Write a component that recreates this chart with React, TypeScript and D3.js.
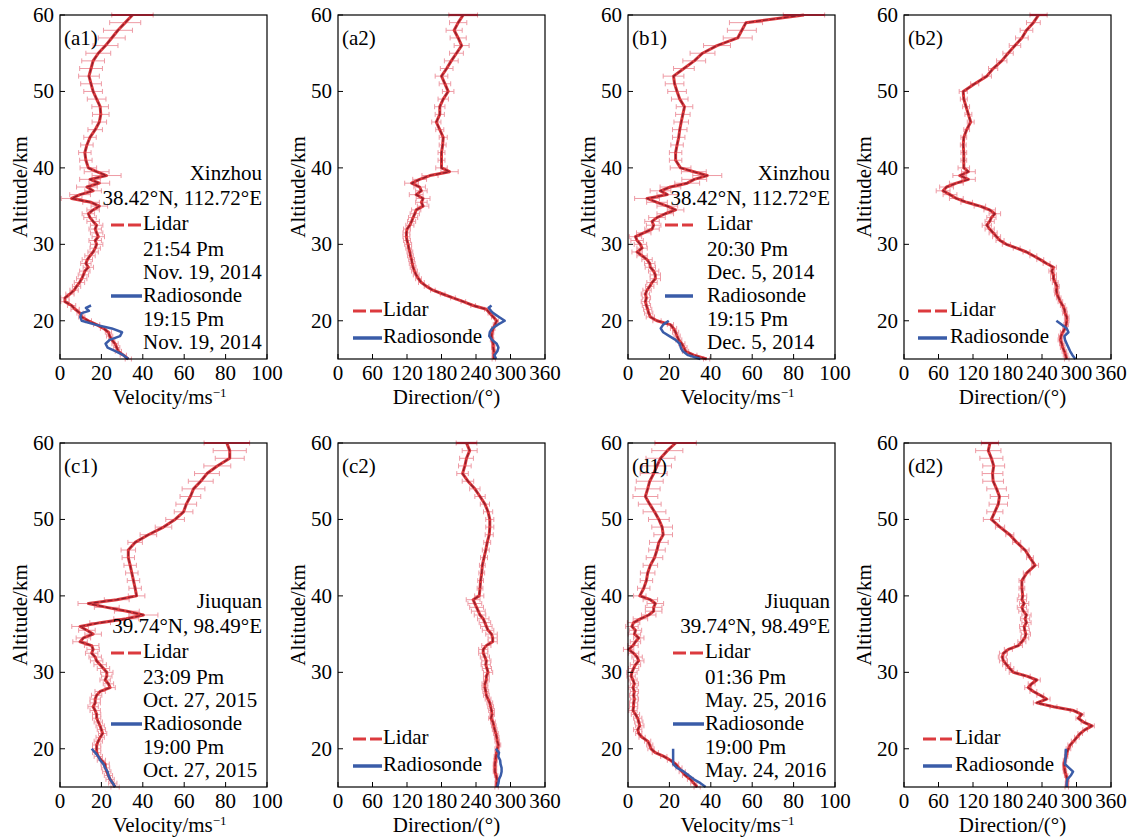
import React from 'react';
import * as d3 from 'd3';

// ---------- DATA ----------
const ALT_LIDAR = [
  15, 15.5, 16, 16.5, 17, 17.5, 18, 18.5, 19, 19.5,
  20, 20.5, 21, 21.5, 22, 22.5, 23, 23.5, 24, 24.5,
  25, 25.5, 26, 26.5, 27, 27.5, 28, 28.5, 29, 29.5,
  30, 30.5, 31, 31.5, 32, 32.5, 33, 33.5, 34, 34.5,
  35, 35.5, 36, 36.5, 37, 37.5, 38, 38.5, 39, 39.5,
  40,
  41, 42, 43, 44, 45, 46, 47, 48, 49, 50,
  51, 52, 53, 54, 55, 56, 57, 58, 59, 60,
];

const A1_LIDAR = [
  33, 30.6, 28.2, 27.4, 26.6, 25, 24, 23.4, 21, 17.7,
  13.7, 10.5, 9.7, 7.3, 5.6, 2.4, 2.4, 4.8, 6.8, 8,
  9.4, 10.5, 11.3, 12, 13.7, 12.5, 13.2, 14.5, 16, 17,
  17.7, 17, 18.5, 17.7, 17, 17.7, 16, 14.5, 13.7, 16,
  19, 15, 5.6, 9.7, 16, 13, 19, 14.5, 22.5, 17.7,
  13.7,
  12.5, 12, 13, 14.5, 17, 19, 19.7, 19.4, 17.7, 16,
  15, 14, 15, 16, 18.5, 22, 25, 28, 31.5, 35,
];
const A1_ERR = [
  1.5, 1.5, 1.5, 1.5, 1.5, 1.5, 1.5, 1.5, 1.5, 1.5,
  1.5, 1.5, 1.5, 2, 2, 2, 2, 2, 2, 2,
  2.5, 2.5, 2.5, 2.5, 2.5, 2.5, 2.5, 2.5, 2.5, 2.5,
  3, 3, 3, 3, 3, 3, 3, 3, 3, 3,
  4, 4, 5, 5, 4, 5, 5, 5, 7, 6,
  4,
  3, 3, 3, 3, 3.5, 3.5, 4, 4, 4.5, 4.5,
  5, 5, 5.5, 5.5, 6, 6, 6.5, 7, 7.5, 10,
];
const A1_SONDE_ALT = [15, 15.5, 16, 16.5, 17, 17.5, 18, 18.5, 19, 19.5, 20, 20.5, 21, 21.3, 21.7, 22];
const A1_SONDE = [33, 30.6, 27, 23, 22, 24, 29, 30, 25, 17, 10.5, 9.8, 10.5, 14, 12.5, 15];

const A2_LIDAR = [
  271, 271, 271, 270, 270, 268, 267, 268, 270, 273,
  276, 270, 264, 258, 235, 218, 200, 182, 165, 154,
  145, 140, 136, 133, 130.6, 129, 128, 126, 125, 123,
  122, 120, 119, 119, 120, 125, 128, 130.6, 133.5, 136,
  148, 145, 148, 136, 145, 142, 128, 142, 160, 194,
  180,
  180, 180, 182, 183, 177, 171, 177, 177, 183, 191.6,
  186, 180, 189, 197, 206, 215, 209, 202, 209, 217.7,
];
const A2_ERR = [
  3, 3, 3, 3, 3, 3, 3, 3, 3, 3,
  3, 3, 3, 3, 4, 4, 4, 4, 4, 4,
  5, 5, 5, 5, 5, 5, 5, 5, 5, 5,
  6, 6, 6, 6, 6, 7, 7, 8, 8, 8,
  10, 10, 12, 12, 10, 10, 12, 12, 14, 15,
  10,
  6, 6, 6, 7, 7, 8, 8, 9, 9, 10,
  10, 11, 11, 12, 12, 13, 14, 14, 15, 25,
];
const A2_SONDE_ALT = [15, 15.5, 16, 16.5, 17, 17.5, 18, 18.5, 19, 19.5, 20, 20.5, 21, 21.3, 21.7, 22];
const A2_SONDE = [275, 272, 277, 279, 276, 268, 263, 264, 268, 278, 290, 280, 270, 266, 262, 267];

const B1_LIDAR = [
  38, 31.8, 27.8, 27, 26, 24.5, 23.7, 23, 22, 20.5,
  14, 10.8, 10, 9.5, 8.9, 8.4, 8.9, 8.4, 9.2, 10.5,
  11.6, 13.2, 13.2, 12.4, 10.8, 10.5, 9.2, 6.8, 4.4, 6.8,
  6, 4.4, 3.6, 7.6, 11.6, 12.4, 11.6, 14, 18, 23,
  19, 14, 9.2, 19, 15.7, 20.5, 28.6, 32, 38.3, 31.8,
  25.4,
  23, 23, 23.7, 24.5, 25, 25.7, 26.5, 27.3, 25, 23.7,
  22.5, 22, 27, 32, 36, 43, 53, 55, 57, 85,
];
const B1_ERR = [
  1.5, 1.5, 1.5, 1.5, 1.5, 1.5, 1.5, 1.5, 1.5, 1.5,
  2, 2, 2, 2, 2, 2, 2, 2, 2, 2,
  2.5, 2.5, 2.5, 2.5, 2.5, 2.5, 2.5, 2.5, 2.5, 2.5,
  3, 3, 3, 3.5, 3.5, 3.5, 3.5, 4, 4, 4,
  5, 5, 6, 5, 5, 5, 6, 6, 7, 6,
  5,
  3, 3, 3, 3, 3.5, 3.5, 3.5, 4, 4, 4.5,
  4.5, 5, 5, 5.5, 6, 6.5, 7, 7, 8, 10,
];
const B1_SONDE_ALT = [15, 15.5, 16, 16.5, 17, 17.5, 18, 18.5, 19, 19.5, 20];
const B1_SONDE = [35, 29, 26.5, 25.5, 25, 23, 20, 17, 15.8, 17, 19.7];

const B2_LIDAR = [
  283, 281, 279, 276, 274.5, 272, 273, 276, 280, 282,
  283, 283, 280, 279, 276, 272, 269, 266, 265, 266,
  263, 260, 260, 257, 260, 248, 237, 225, 213, 196,
  178, 167, 161, 155, 149, 144, 149, 152, 158, 149,
  132, 109, 91, 80, 68, 74, 91, 112, 97, 112,
  104,
  104, 104, 103, 104, 109, 116, 112, 108, 104, 103,
  123, 144, 155, 170, 181, 193, 205, 213, 225, 234,
];
const B2_ERR = [
  4, 4, 4, 4, 4, 4, 4, 4, 4, 4,
  4, 4, 4, 4, 4, 4, 4, 4, 4, 4,
  5, 5, 5, 5, 5, 6, 6, 6, 6, 6,
  7, 7, 7, 7, 8, 8, 8, 8, 10, 10,
  10, 10, 12, 12, 12, 12, 12, 12, 12, 12,
  10,
  5, 5, 5, 5, 5, 6, 6, 6, 6, 7,
  7, 8, 8, 9, 9, 10, 11, 11, 12, 15,
];
const B2_SONDE_ALT = [15, 15.5, 16, 16.5, 17, 17.5, 18, 18.5, 19, 19.5, 20];
const B2_SONDE = [298, 293, 289, 286, 283, 280, 279, 286, 283, 274, 265];

const C1_LIDAR = [
  26.6, 25.5, 24.2, 23.4, 22.6, 22, 21.8, 20, 18.5, 17.7,
  17.7, 17.7, 18.5, 19.4, 20.6, 20, 19.4, 18.5, 17.7, 17.7,
  17, 16, 17, 17, 17.7, 19.4, 24.2, 23.4, 21.8, 22.6,
  22.6, 21, 19.4, 17.7, 17, 15.3, 16, 15.3, 9.7, 11.3,
  16, 13, 9.7, 19.4, 32, 40.3, 32.3, 22.6, 13.7, 27.4,
  37,
  36.3, 35.5, 34.7, 33.9, 33, 33, 36.3, 42.7, 50, 55.6,
  59.7, 61, 63, 64.5, 68, 71, 76, 82, 82, 80.6,
];
const C1_ERR = [
  2, 2, 2, 2, 2, 2, 2, 2, 2, 2,
  2, 2, 2, 2, 2, 2, 2, 2, 2, 2,
  2.5, 2.5, 2.5, 2.5, 2.5, 2.5, 2.5, 2.5, 2.5, 2.5,
  3, 3, 3, 3, 3, 3, 3, 3.5, 3.5, 3.5,
  4, 4, 4, 5, 6, 7, 6, 6, 5, 6,
  4,
  3, 3, 3, 3, 3, 3.5, 3.5, 4, 4, 4.5,
  4.5, 5, 5, 5.5, 6, 6, 6.5, 7, 8, 11,
];
const C1_SONDE_ALT = [15, 15.5, 16, 16.5, 17, 17.5, 18, 18.5, 19, 19.5, 20];
const C1_SONDE = [26.6, 25.5, 24.2, 23.4, 23, 21.8, 21, 19.4, 18.5, 17, 15.3];

const C2_LIDAR = [
  275.8, 276, 276.5, 275, 273, 273, 273, 274, 274.6, 276,
  277, 279, 277, 276, 274.6, 272.5, 271, 269.5, 266, 268,
  267, 265.5, 264, 261, 258, 257, 255.5, 255.5, 258, 258,
  261, 259, 257, 258, 255.5, 252.6, 252.6, 258, 269, 269,
  267, 261, 258, 255.5, 252.6, 247, 244, 241, 238, 235,
  245.6,
  247, 248, 250, 251, 254, 257, 259.5, 263, 264, 264,
  261, 255.5, 247, 238, 226, 216.6, 220.6, 223.5, 229, 223.5,
];
const C2_ERR = [
  3, 3, 3, 3, 3, 3, 3, 3, 3, 3,
  4, 4, 4, 4, 4, 4, 4, 4, 4, 4,
  5, 5, 5, 5, 5, 5, 5, 5, 5, 5,
  8, 8, 8, 8, 8, 8, 8, 8, 8, 8,
  10, 10, 10, 10, 10, 10, 12, 12, 12, 12,
  8,
  5, 5, 5, 5, 6, 6, 6, 7, 7, 7,
  8, 8, 9, 9, 10, 10, 11, 12, 13, 18,
];
const C2_SONDE_ALT = [15, 15.5, 16, 16.5, 17, 17.5, 18, 18.5, 19, 19.5, 20];
const C2_SONDE = [277, 279, 280, 283, 284.5, 284.5, 282.7, 282, 278.7, 280, 274.6];

const D1_LIDAR = [
  33.4, 31.8, 30.2, 27.8, 26.2, 24.6, 23, 20.5, 17.3, 13.2,
  11.1, 10.5, 9.5, 6.8, 5.2, 4.7, 5.7, 5.2, 4.7, 3.6,
  2.4, 2.7, 2.7, 3.1, 2.7, 3.1, 2.4, 3.1, 2.4, 1.5,
  1.9, 2.7, 3.6, 5.2, 4.4, 2.7, 0.3, 2.4, 3.6, 5.2,
  3.1, 3.6, 1.9, 2.7, 6, 10, 12.4, 12.4, 13.2, 10.8,
  5.7,
  7.6, 8.9, 9.5, 10.8, 12.8, 14, 14.9, 17, 16.5, 14.9,
  12.8, 10.5, 8.4, 9.5, 10.5, 12.4, 14, 15.7, 19, 23,
];
const D1_ERR = [
  1.5, 1.5, 1.5, 1.5, 1.5, 1.5, 1.5, 1.5, 1.5, 1.5,
  1.5, 1.5, 1.5, 1.5, 1.5, 2, 2, 2, 2, 2,
  2, 2, 2, 2, 2, 2, 2, 2, 2, 2,
  2.5, 2.5, 2.5, 2.5, 2.5, 2.5, 2.5, 2.5, 2.5, 2.5,
  3, 3, 3, 3, 3.5, 3.5, 4, 4, 4, 3.5,
  3,
  3, 3, 3.5, 3.5, 4, 4, 4.5, 4.5, 5, 5,
  5.5, 5.5, 6, 6, 6.5, 6.5, 7, 7, 7.5, 10,
];
const D1_SONDE_ALT = [15, 15.5, 16, 16.5, 17, 17.5, 18, 19, 20];
const D1_SONDE = [37.5, 35, 31.8, 29.4, 27, 23.7, 21.8, 21.8, 21.8];

const D2_LIDAR = [
  283, 283.5, 284, 282, 280, 279, 278.6, 280, 282, 283,
  286, 289, 295, 300.7, 306.5, 315, 327, 312, 303, 309,
  295, 260, 231, 248, 237, 225, 216, 222, 231, 213.5,
  190, 184, 178.5, 173, 171, 173, 181.5, 199, 205, 210,
  212, 210, 209, 213, 210.5, 213, 207.6, 205, 209, 205,
  206.5,
  205, 205, 213.5, 228, 219, 210.5, 196, 184, 167, 152,
  158, 164, 166, 161, 155, 154, 156, 152, 146.6, 149.5,
];
const D2_ERR = [
  3, 3, 3, 3, 3, 3, 3, 3, 3, 3,
  4, 4, 4, 4, 4, 4, 4, 4, 4, 4,
  6, 6, 6, 6, 6, 6, 6, 6, 6, 6,
  7, 7, 7, 7, 7, 7, 7, 7, 7, 7,
  8, 8, 8, 8, 8, 8, 8, 8, 8, 8,
  7,
  5, 5, 6, 6, 6, 7, 7, 7, 8, 14,
  14, 16, 16, 17, 18, 18, 19, 20, 22, 15,
];
const D2_SONDE_ALT = [15, 15.5, 16, 16.5, 17, 17.5, 18, 19, 20];
const D2_SONDE = [283, 283, 284, 290, 294, 287, 280, 281, 281.5];

const VEL_TICKS = [0, 20, 40, 60, 80, 100];
const DIR_TICKS = [0, 60, 120, 180, 240, 300, 360];
const ALT_TICKS = [20, 30, 40, 50, 60];

const PANEL_LABELS = ['(a1)', '(a2)', '(b1)', '(b2)', '(c1)', '(c2)', '(d1)', '(d2)'];
const SITE_NAMES = ['Xinzhou', 'Xinzhou', 'Jiuquan', 'Jiuquan'];
const SITE_COORDS = ['38.42°N, 112.72°E', '38.42°N, 112.72°E', '39.74°N, 98.49°E', '39.74°N, 98.49°E'];
const LIDAR_TIMES = ['21:54 Pm', '20:30 Pm', '23:09 Pm', '01:36 Pm'];
const LIDAR_DATES = ['Nov. 19, 2014', 'Dec. 5, 2014', 'Oct. 27, 2015', 'May. 25, 2016'];
const SONDE_TIMES = ['19:15 Pm', '19:15 Pm', '19:00 Pm', '19:00 Pm'];
const SONDE_DATES = ['Nov. 19, 2014', 'Dec. 5, 2014', 'Oct. 27, 2015', 'May. 24, 2016'];

// ---------- LAYOUT ----------
const W = 207;
const H = 344;
const COL_LEFT = [60, 338, 628, 904];
const ROW_TOP = [15, 443];
const FONT = "'Liberation Serif', 'Times New Roman', serif";
const FS = 21;
const RED = '#dc3a3e';
const DARK_RED = '#8c1d2b';
const ERR_COLOR = '#ee9aa4';
const BLUE = '#3a5ca8';

type Kind = 'vel' | 'dir';
interface PanelDef {
  idx: number;
  kind: Kind;
  col: number;
  row: number;
  lidar: number[];
  err: number[];
  sondeAlt: number[];
  sonde: number[];
  site: number;
  legendLine: [number, number];
  legendText: number;
}

const PANELS: PanelDef[] = [
  { idx: 0, kind: 'vel', col: 0, row: 0, lidar: A1_LIDAR, err: A1_ERR, sondeAlt: A1_SONDE_ALT, sonde: A1_SONDE, site: 0, legendLine: [51, 82], legendText: 83 },
  { idx: 1, kind: 'dir', col: 1, row: 0, lidar: A2_LIDAR, err: A2_ERR, sondeAlt: A2_SONDE_ALT, sonde: A2_SONDE, site: 0, legendLine: [15, 44], legendText: 45 },
  { idx: 2, kind: 'vel', col: 2, row: 0, lidar: B1_LIDAR, err: B1_ERR, sondeAlt: B1_SONDE_ALT, sonde: B1_SONDE, site: 1, legendLine: [37, 65], legendText: 79 },
  { idx: 3, kind: 'dir', col: 3, row: 0, lidar: B2_LIDAR, err: B2_ERR, sondeAlt: B2_SONDE_ALT, sonde: B2_SONDE, site: 1, legendLine: [14, 43], legendText: 46 },
  { idx: 4, kind: 'vel', col: 0, row: 1, lidar: C1_LIDAR, err: C1_ERR, sondeAlt: C1_SONDE_ALT, sonde: C1_SONDE, site: 2, legendLine: [51, 82], legendText: 83 },
  { idx: 5, kind: 'dir', col: 1, row: 1, lidar: C2_LIDAR, err: C2_ERR, sondeAlt: C2_SONDE_ALT, sonde: C2_SONDE, site: 2, legendLine: [15, 44], legendText: 45 },
  { idx: 6, kind: 'vel', col: 2, row: 1, lidar: D1_LIDAR, err: D1_ERR, sondeAlt: D1_SONDE_ALT, sonde: D1_SONDE, site: 3, legendLine: [45, 76], legendText: 77 },
  { idx: 7, kind: 'dir', col: 3, row: 1, lidar: D2_LIDAR, err: D2_ERR, sondeAlt: D2_SONDE_ALT, sonde: D2_SONDE, site: 3, legendLine: [19, 48], legendText: 51 },
];

function Panel({ p }: { p: PanelDef }) {
  const left = COL_LEFT[p.col];
  const top = ROW_TOP[p.row];
  const isVel = p.kind === 'vel';
  const x = d3.scaleLinear().domain(isVel ? [0, 100] : [0, 360]).range([left, left + W]);
  const y = d3.scaleLinear().domain([15, 60]).range([top + H, top]);
  const xTicks = isVel ? VEL_TICKS : DIR_TICKS;

  const lidarPts: [number, number][] = ALT_LIDAR.map((a, i) => [p.lidar[i], a]);
  const sondePts: [number, number][] = p.sondeAlt.map((a, i) => [p.sonde[i], a]);
  const line = d3.line<[number, number]>().x(d => x(d[0])).y(d => y(d[1]));

  const bottom = top + H;
  const right = left + W;
  const lastIdx = ALT_LIDAR.length - 1;

  const [l0, l1] = p.legendLine;
  const tx = left + p.legendText;

  return (
    <g>
      {/* error bars */}
      <g stroke={ERR_COLOR} strokeWidth={1} fill="none">
        {ALT_LIDAR.map((a, i) => {
          const yy = y(a);
          const x0 = x(p.lidar[i] - p.err[i]);
          const x1 = x(p.lidar[i] + p.err[i]);
          return (
            <g key={i}>
              <line x1={x0} x2={x1} y1={yy} y2={yy} />
              <line x1={x0} x2={x0} y1={yy - 2.5} y2={yy + 2.5} />
              <line x1={x1} x2={x1} y1={yy - 2.5} y2={yy + 2.5} />
            </g>
          );
        })}
      </g>
      {/* lidar line */}
      <path d={line(lidarPts) || ''} fill="none" stroke={RED} strokeWidth={3} strokeLinejoin="round" />
      <path d={line(lidarPts) || ''} fill="none" stroke={DARK_RED} strokeWidth={1.2} strokeDasharray="5,2" strokeLinejoin="round" />
      {/* radiosonde */}
      <path d={line(sondePts) || ''} fill="none" stroke={BLUE} strokeWidth={2.5} strokeLinejoin="round" />

      {/* frame */}
      <rect x={left} y={top} width={W} height={H} fill="none" stroke="#000" strokeWidth={1.2} />
      {/* top error bar drawn over the frame */}
      <line
        x1={x(p.lidar[lastIdx] - p.err[lastIdx])}
        x2={x(p.lidar[lastIdx] + p.err[lastIdx])}
        y1={top}
        y2={top}
        stroke={DARK_RED}
        strokeWidth={2.2}
      />
      {/* x ticks */}
      {xTicks.map(t => (
        <g key={'x' + t}>
          <line x1={x(t)} x2={x(t)} y1={bottom} y2={bottom - 5} stroke="#000" strokeWidth={1} />
          <text x={x(t)} y={bottom + 21} textAnchor="middle" fontSize={FS} fontFamily={FONT}>{t}</text>
        </g>
      ))}
      {/* y ticks */}
      {ALT_TICKS.map(t => (
        <g key={'y' + t}>
          <line x1={left} x2={left + 5} y1={y(t)} y2={y(t)} stroke="#000" strokeWidth={1} />
          <text x={left - 6} y={y(t) + 7} textAnchor="end" fontSize={FS} fontFamily={FONT}>{t}</text>
        </g>
      ))}
      {/* axis titles */}
      <text transform={`translate(${left - 33},${top + H / 2}) rotate(-90)`} textAnchor="middle" fontSize={FS} fontFamily={FONT}>Altitude/km</text>
      {isVel ? (
        <text x={left + W / 2 + 6} y={bottom + 45} textAnchor="middle" fontSize={FS} fontFamily={FONT}>
          Velocity/ms<tspan fontSize={13} dy={-7}>−1</tspan>
        </text>
      ) : (
        <text x={left + W / 2 + 5} y={bottom + 45} textAnchor="middle" fontSize={FS} fontFamily={FONT}>Direction/(°)</text>
      )}
      {/* panel label */}
      <text x={left + 4} y={top + 30} fontSize={FS} fontFamily={FONT}>{PANEL_LABELS[p.idx]}</text>

      {/* legend */}
      {isVel ? (
        <g fontSize={FS} fontFamily={FONT}>
          <text x={right - 5} y={top + 165} textAnchor="end">{SITE_NAMES[p.site]}</text>
          <text x={right - 5} y={top + 190} textAnchor="end">{SITE_COORDS[p.site]}</text>
          <line x1={left + l0} x2={left + l1} y1={top + 210} y2={top + 210} stroke={RED} strokeWidth={3} strokeDasharray="13,4" />
          <text x={tx} y={top + 215}>Lidar</text>
          <text x={tx} y={top + 241}>{LIDAR_TIMES[p.site]}</text>
          <text x={tx} y={top + 264}>{LIDAR_DATES[p.site]}</text>
          <line x1={left + l0} x2={left + l1} y1={top + 281} y2={top + 281} stroke={BLUE} strokeWidth={3.5} />
          <text x={tx} y={top + 287}>Radiosonde</text>
          <text x={tx} y={top + 311}>{SONDE_TIMES[p.site]}</text>
          <text x={tx} y={top + 334}>{SONDE_DATES[p.site]}</text>
        </g>
      ) : (
        <g fontSize={FS} fontFamily={FONT}>
          <line x1={left + l0} x2={left + l1} y1={top + 296} y2={top + 296} stroke={RED} strokeWidth={3} strokeDasharray="13,4" />
          <text x={tx} y={top + 301}>Lidar</text>
          <line x1={left + l0} x2={left + l1} y1={top + 323} y2={top + 323} stroke={BLUE} strokeWidth={3.5} />
          <text x={tx} y={top + 328}>Radiosonde</text>
        </g>
      )}
    </g>
  );
}

export default function App() {
  return (
    <svg width={1130} height={838} style={{ position: 'absolute', left: 0, top: 0, background: '#fff' }}>
      <rect x={0} y={0} width={1130} height={838} fill="#fff" />
      {PANELS.map(p => <Panel key={p.idx} p={p} />)}
    </svg>
  );
}
